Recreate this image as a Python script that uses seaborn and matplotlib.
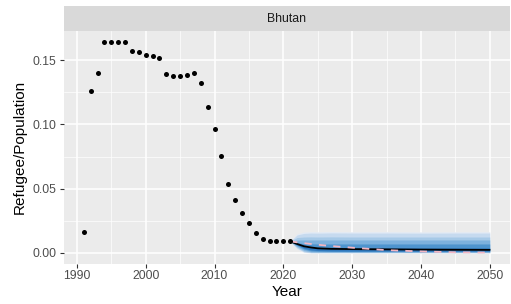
import matplotlib
matplotlib.use('Agg')
import matplotlib.pyplot as plt
import seaborn as sns
import pandas as pd

# observed refugee / population ratio
obs_years = list(range(1991, 2022))
obs_values = [0.0163, 0.1258, 0.1403, 0.1645, 0.1640, 0.1640, 0.1645,
              0.1570, 0.1560, 0.1540, 0.1530, 0.1518,
              0.1390, 0.1377, 0.1377, 0.1385, 0.1403, 0.1320, 0.1132,
              0.0961, 0.0754, 0.0540, 0.0413, 0.0310, 0.0233, 0.0155,
              0.0109, 0.0095, 0.0090, 0.0090, 0.0090]

# forecast
fc_years = [2021, 2022, 2023, 2024, 2025, 2027, 2030, 2035, 2040, 2045, 2050]
median = [0.0090, 0.0070, 0.0052, 0.0043, 0.0036, 0.0032, 0.0030, 0.0028, 0.0026, 0.0025, 0.0024]
trend = [0.0090, 0.0083, 0.0076, 0.0070, 0.0064, 0.0054, 0.0041, 0.0022, 0.0012, 0.0005, 0.0003]

# prediction bands, outer to inner: (lower, upper)
band_lo = [
    [0.0090, 0.0030, 0.0005, 0.0, 0.0, 0.0, 0.0, 0.0, 0.0, 0.0, 0.0],
    [0.0090, 0.0035, 0.0008, 0.0002, 0.0002, 0.0002, 0.0002, 0.0002, 0.0002, 0.0002, 0.0002],
    [0.0090, 0.0042, 0.0012, 0.0005, 0.0004, 0.0004, 0.0004, 0.0004, 0.0004, 0.0004, 0.0004],
    [0.0090, 0.0050, 0.0020, 0.0009, 0.0008, 0.0007, 0.0007, 0.0007, 0.0007, 0.0007, 0.0007],
    [0.0090, 0.0058, 0.0030, 0.0016, 0.0013, 0.0012, 0.0011, 0.0011, 0.0010, 0.0010, 0.0010],
    [0.0090, 0.0064, 0.0038, 0.0024, 0.0019, 0.0016, 0.0015, 0.0015, 0.0014, 0.0014, 0.0014],
]
band_hi = [
    [0.0090, 0.0150, 0.0163, 0.0166, 0.0165, 0.0167, 0.0165, 0.0166, 0.0164, 0.0165, 0.0165],
    [0.0090, 0.0140, 0.0152, 0.0155, 0.0154, 0.0156, 0.0155, 0.0155, 0.0154, 0.0155, 0.0155],
    [0.0090, 0.0120, 0.0124, 0.0125, 0.0124, 0.0125, 0.0124, 0.0124, 0.0124, 0.0124, 0.0124],
    [0.0090, 0.0100, 0.0101, 0.0101, 0.0101, 0.0101, 0.0101, 0.0101, 0.0101, 0.0101, 0.0101],
    [0.0090, 0.0080, 0.0072, 0.0071, 0.0070, 0.0070, 0.0070, 0.0070, 0.0070, 0.0070, 0.0070],
    [0.0090, 0.0068, 0.0050, 0.0043, 0.0041, 0.0040, 0.0039, 0.0039, 0.0039, 0.0039, 0.0039],
]
band_colors = ['#e2eaf5', '#c6daef', '#a6c9e7', '#7db1dd', '#4e94ce', '#2f78bd']

obs_df = pd.DataFrame({'Year': obs_years, 'ratio': obs_values})
fc_df = pd.DataFrame({'Year': fc_years, 'median': median, 'trend': trend})

sns.set_theme(style='darkgrid')
plt.rcParams['font.family'] = ['Liberation Sans', 'DejaVu Sans']

fig = plt.figure(figsize=(5.11, 3.04), dpi=100)
ax = fig.add_axes([63.5 / 511, 40.5 / 304, (510 - 63.5) / 511, (263.5 - 31) / 304])
ax.set_facecolor('#EBEBEB')

# bands
for lo, hi, c in zip(band_lo, band_hi, band_colors):
    ax.fill_between(fc_years, lo, hi, color=c, linewidth=0, zorder=2)

sns.lineplot(data=fc_df, x='Year', y='median', color='black', linewidth=1.3, ax=ax, zorder=3)
sns.lineplot(data=fc_df, x='Year', y='trend', color='#f4b6c2', linewidth=1.3,
             linestyle=(0, (4, 4)), ax=ax, zorder=4)
sns.scatterplot(data=obs_df, x='Year', y='ratio', color='black', s=13, linewidth=0, ax=ax, zorder=5)

ax.set_xlim(1988.05, 2052.95)
ax.set_ylim(-0.0082, 0.1727)
ax.set_xticks([1990, 2000, 2010, 2020, 2030, 2040, 2050])
ax.set_xticks([1995, 2005, 2015, 2025, 2035, 2045], minor=True)
ax.set_yticks([0.0, 0.05, 0.10, 0.15])
ax.set_yticklabels(['0.00', '0.05', '0.10', '0.15'])
ax.set_yticks([0.025, 0.075, 0.125], minor=True)
ax.grid(which='major', color='white', linewidth=1.1)
ax.grid(which='minor', color='white', linewidth=0.5)
ax.set_axisbelow(True)
for s in ax.spines.values():
    s.set_visible(False)
ax.tick_params(axis='both', which='major', length=3, width=0.8, color='#333333',
               labelcolor='#4D4D4D', labelsize=8.8, pad=2, bottom=True, left=True)
ax.tick_params(axis='both', which='minor', length=0)
ax.set_xlabel('Year', fontsize=11, color='black', labelpad=2)
ax.set_ylabel('Refugee/Population', fontsize=11, color='black', labelpad=4)

# facet strip
strip = fig.add_axes([63.5 / 511, (304 - 31) / 304, (510 - 63.5) / 511, 25 / 304])
strip.set_facecolor('#D9D9D9')
strip.set_xticks([])
strip.set_yticks([])
for s in strip.spines.values():
    s.set_visible(False)
strip.text(0.5, 0.5, 'Bhutan', ha='center', va='center', fontsize=8.8, color='#1A1A1A',
           transform=strip.transAxes)

fig.savefig('out.png', dpi=100)
